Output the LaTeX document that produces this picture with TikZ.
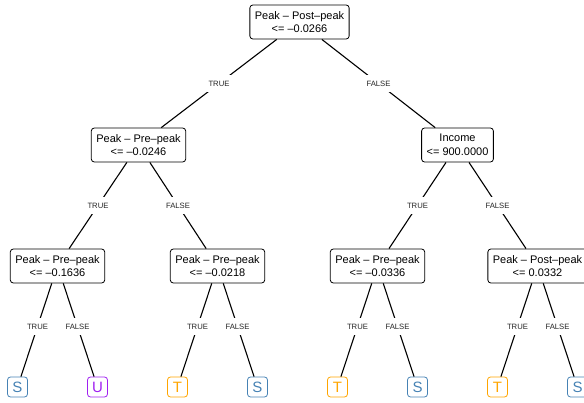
\documentclass[tikz,border=0pt]{standalone}
\usepackage{fontspec}
\setmainfont{Liberation Sans}
\definecolor{cS}{HTML}{4682B4}
\definecolor{cU}{HTML}{A020F0}
\definecolor{cT}{HTML}{FFA500}
\begin{document}
\begin{tikzpicture}[x=1pt,y=-1pt,
  split/.style={draw, rounded corners=3pt, line width=0.8pt, align=center,
    font=\fontsize{11}{13.5}\selectfont, inner xsep=5pt, minimum height=34pt},
  leaf/.style={draw=#1, text=#1, rounded corners=3pt, line width=0.8pt,
    minimum size=20pt, inner sep=0pt, font=\fontsize{15}{15}\selectfont},
  edge/.style={line width=1.1pt},
  lbl/.style={fill=white, text=black!85, font=\fontsize{7.7}{8}\selectfont,
    inner xsep=1.5pt, inner ysep=6pt, text height=5.5pt, text depth=0pt}
]
\useasboundingbox (0,0) rectangle (584,403);

\node[split] (r) at (299.5,22) {Peak -- Post--peak\\<= --0.0266};
\node[split] (a) at (138.5,145) {Peak -- Pre--peak\\<= --0.0246};
\node[split] (b) at (457.5,145) {Income\\<= 900.0000};
\node[split] (a1) at (57.5,266) {Peak -- Pre--peak\\<= --0.1636};
\node[split] (a2) at (217.5,266) {Peak -- Pre--peak\\<= --0.0218};
\node[split] (b1) at (377.5,266) {Peak -- Pre--peak\\<= --0.0336};
\node[split] (b2) at (537.5,266) {Peak -- Post--peak\\<= 0.0332};

\node[leaf=cS] (l1) at (17.5,387) {S};
\node[leaf=cU] (l2) at (97.5,387) {U};
\node[leaf=cT] (l3) at (177.5,387) {T};
\node[leaf=cS] (l4) at (257.5,387) {S};
\node[leaf=cT] (l5) at (337.5,387) {T};
\node[leaf=cS] (l6) at (417.5,387) {S};
\node[leaf=cT] (l7) at (497.5,387) {T};
\node[leaf=cS] (l8) at (577.5,387) {S};

\foreach \p/\c in {r/a, r/b, a/a1, a/a2, b/b1, b/b2,
  a1/l1, a1/l2, a2/l3, a2/l4, b1/l5, b1/l6, b2/l7, b2/l8}
  \draw[edge] (\p) -- (\c);

\foreach \p/\c/\t in {r/a/TRUE, r/b/FALSE, a/a1/TRUE, a/a2/FALSE, b/b1/TRUE, b/b2/FALSE,
  a1/l1/TRUE, a1/l2/FALSE, a2/l3/TRUE, a2/l4/FALSE, b1/l5/TRUE, b1/l6/FALSE, b2/l7/TRUE, b2/l8/FALSE}
  \path (\p.center) -- node[lbl] {\t} (\c.center);
\end{tikzpicture}
\end{document}
